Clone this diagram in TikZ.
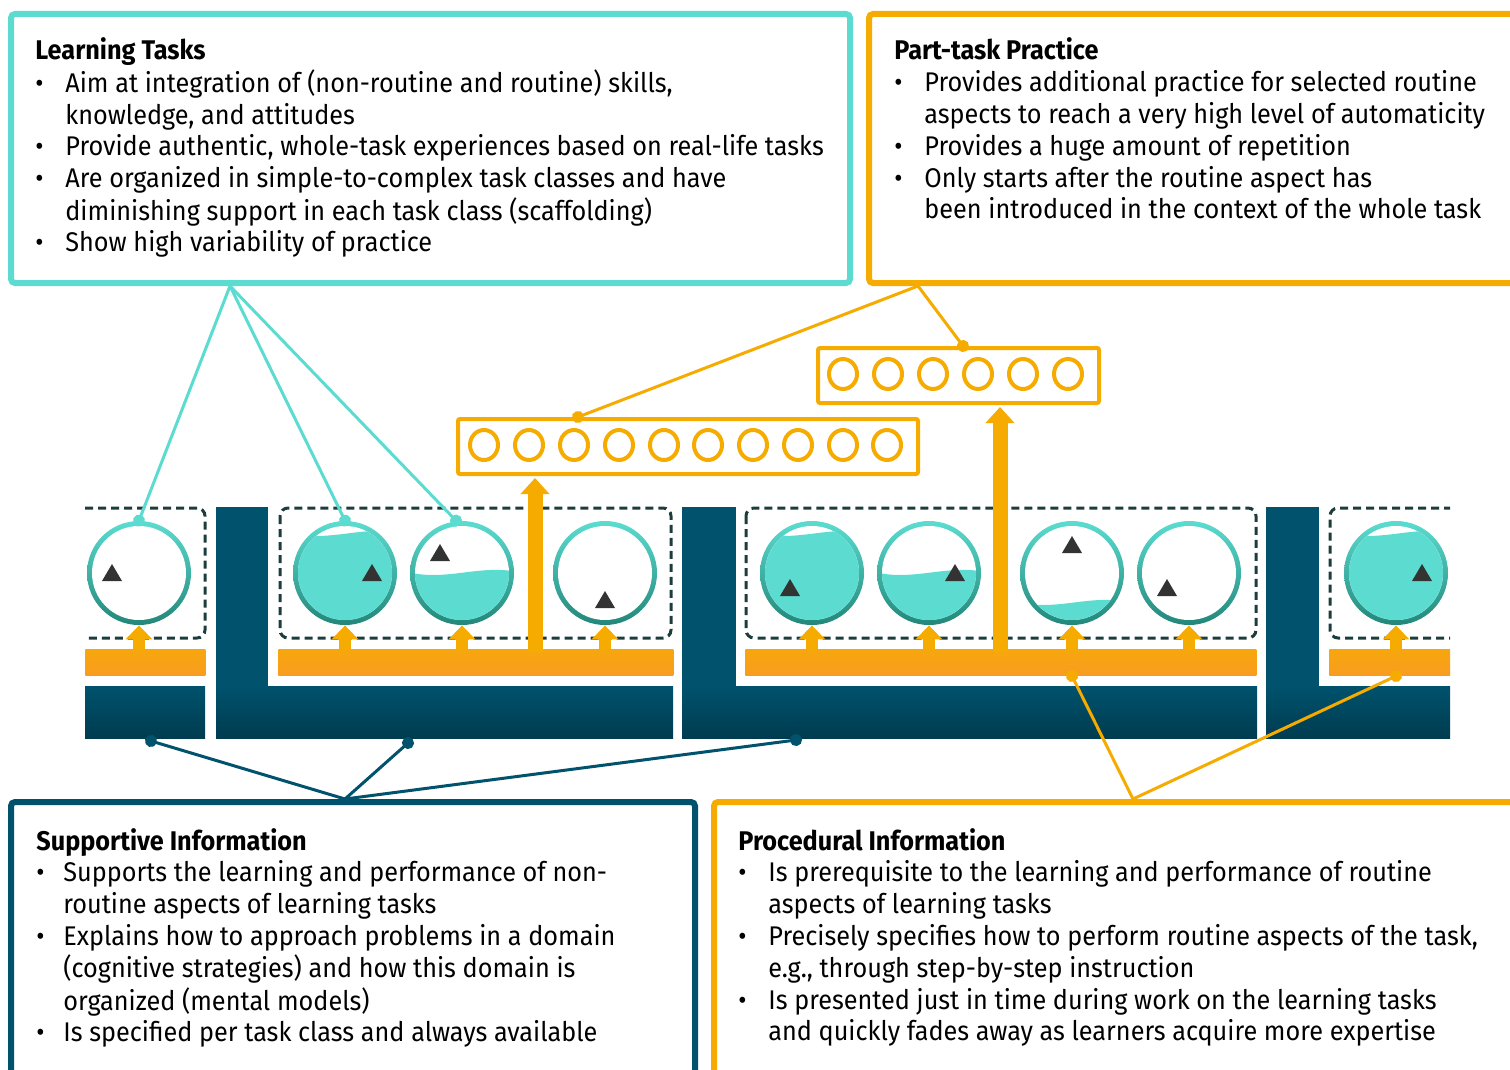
\documentclass[tikz,border=0pt]{standalone}
\usepackage{fontspec}
\setmainfont{Fira Sans}[FakeStretch=0.935]
\usetikzlibrary{arrows.meta}
\definecolor{tealLight}{HTML}{5CDCD0}
\definecolor{tealDark}{HTML}{22877A}
\definecolor{petrol}{HTML}{00526D}
\definecolor{petrolDark}{HTML}{003C50}
\definecolor{amber}{HTML}{F6AB00}
\definecolor{amberTop}{HTML}{F7A70C}
\definecolor{amberBottom}{HTML}{F99B22}
\definecolor{frame}{HTML}{1D3D3D}
\definecolor{marker}{HTML}{333333}
\begin{document}
\begin{tikzpicture}[x=0.5pt,y=-0.5pt]
  % Define styles for nodes
  \tikzstyle{infobox} = [anchor=north west, draw, rounded corners=2pt,
  line width=3pt, inner sep=0pt, minimum height=134.5pt]
  \tikzstyle{infotext} = [anchor=base west, inner sep=0pt,
  font=\fontsize{13.5}{15.9}\selectfont]
  \tikzstyle{tank} = [circle, minimum size=52pt, inner sep=0pt,
  top color=tealLight, bottom color=tealDark,
  path picture={\fill[white] (path picture bounding box.center) circle (23.5pt);}]
  \tikzstyle{water} = [fill=tealLight]
  \tikzstyle{obar} = [anchor=south west, inner sep=0pt, minimum height=13pt,
  top color=amberTop, bottom color=amberBottom]
  \tikzstyle{drillbox} = [anchor=north west, draw=amber, line width=2pt,
  rounded corners=1pt, inner sep=0pt, minimum height=27.5pt]
  \tikzstyle{drill} = [draw=amber, line width=2pt]
  \tikzstyle{taskclass} = [draw=frame, line width=1.5pt,
  dash pattern=on 4pt off 2.5pt, rounded corners=4pt]
  \tikzstyle{upsmall} = [draw=amber, line width=6pt, -{Triangle[width=13pt,length=7pt]}]
  \tikzstyle{upbig} = [draw=amber, line width=7.5pt, -{Triangle[width=14pt,length=8pt]}]
  \tikzstyle{link} = [line width=1.5pt, -{Circle[length=6pt]}, shorten >=-3pt]

  \useasboundingbox (0,0) rectangle (1510,1070);

  % Four text boxes
  \node[infobox, draw=tealLight, minimum width=419.5pt] (lt) at (8,11) {};
  \node[infobox, draw=amber, minimum width=340pt] (pt) at (866,11) {};
  \node[infobox, draw=petrol, minimum width=342pt, minimum height=150pt] (si) at (8,799) {};
  \node[infobox, draw=amber, minimum width=415pt, minimum height=150pt] (pi) at (711,799) {};

  \node[infotext] (lttext) at (35,60) {\begin{tabular}[t]{@{}p{15pt}@{}l@{}}
    \multicolumn{2}{@{}l@{}}{\bfseries Learning Tasks}\\
    • & Aim at integration of (non-routine and routine) skills,\\
      & knowledge, and attitudes\\
    • & Provide authentic, whole-task experiences based on real-life tasks\\
    • & Are organized in simple-to-complex task classes and have\\
      & diminishing support in each task class (scaffolding)\\
    • & Show high variability of practice
  \end{tabular}};
  \node[infotext] (pttext) at (894,60) {\begin{tabular}[t]{@{}p{15pt}@{}l@{}}
    \multicolumn{2}{@{}l@{}}{\bfseries Part-task Practice}\\
    • & Provides additional practice for selected routine\\
      & aspects to reach a very high level of automaticity\\
    • & Provides a huge amount of repetition\\
    • & Only starts after the routine aspect has\\
      & been introduced in the context of the whole task
  \end{tabular}};
  \node[infotext] (sitext) at (36,850) {\begin{tabular}[t]{@{}p{13.5pt}@{}l@{}}
    \multicolumn{2}{@{}l@{}}{\bfseries Supportive Information}\\
    • & Supports the learning and performance of non-\\
      & routine aspects of learning tasks\\
    • & Explains how to approach problems in a domain\\
      & (cognitive strategies) and how this domain is\\
      & organized (mental models)\\
    • & Is specified per task class and always available
  \end{tabular}};
  \node[infotext] (pitext) at (738,850) {\begin{tabular}[t]{@{}p{15pt}@{}l@{}}
    \multicolumn{2}{@{}l@{}}{\bfseries Procedural Information}\\
    • & Is prerequisite to the learning and performance of routine\\
      & aspects of learning tasks\\
    • & Precisely specifies how to perform routine aspects of the task,\\
      & e.g., through step-by-step instruction\\
    • & Is presented just in time during work on the learning tasks\\
      & and quickly fades away as learners acquire more expertise
  \end{tabular}};

  % Part-task practice boxes
  \node[drillbox, minimum width=230pt] (pa) at (456,417) {};
  \node[drillbox, minimum width=140.5pt] (pb) at (816,346) {};
  \draw[drill] (484,445) ellipse (14 and 15);
  \draw[drill] (529,445) ellipse (14 and 15);
  \draw[drill] (574,445) ellipse (14 and 15);
  \draw[drill] (619,445) ellipse (14 and 15);
  \draw[drill] (664,445) ellipse (14 and 15);
  \draw[drill] (708,445) ellipse (14 and 15);
  \draw[drill] (753,445) ellipse (14 and 15);
  \draw[drill] (798,445) ellipse (14 and 15);
  \draw[drill] (843,445) ellipse (14 and 15);
  \draw[drill] (887,445) ellipse (14 and 15);
  \draw[drill] (843,374) ellipse (14 and 15);
  \draw[drill] (888,374) ellipse (14 and 15);
  \draw[drill] (933,374) ellipse (14 and 15);
  \draw[drill] (978,374) ellipse (14 and 15);
  \draw[drill] (1023,374) ellipse (14 and 15);
  \draw[drill] (1068,374) ellipse (14 and 15);

  \begin{scope}
    \clip (80,300) rectangle (1450,760);

    % Supportive information spines
    \shade[top color=petrol, bottom color=petrolDark] (85,686) rectangle (205,738);
    \fill[petrol] (216,507) rectangle (268,686);
    \shade[top color=petrol, bottom color=petrolDark] (216,686) rectangle (673,738);
    \fill[petrol] (682,507) rectangle (736,686);
    \shade[top color=petrol, bottom color=petrolDark] (682,686) rectangle (1257,738);
    \fill[petrol] (1266,507) rectangle (1319,686);
    \shade[top color=petrol, bottom color=petrolDark] (1266,686) rectangle (1450,738);

    % Procedural information bars
    \node[obar, minimum width=60pt] (ob1) at (85,676) {};
    \node[obar, minimum width=197.5pt] (ob2) at (278,676) {};
    \node[obar, minimum width=255.5pt] (ob3) at (745,676) {};
    \node[obar, minimum width=60.5pt] (ob4) at (1329,676) {};

    % Task classes
    \draw[taskclass] (85,508) -- (205,508) -- (205,638) -- (85,638);
    \draw[taskclass] (280,508) rectangle (671,638);
    \draw[taskclass] (746,508) rectangle (1256,638);
    \draw[taskclass] (1452,508) -- (1330,508) -- (1330,638) -- (1452,638);

    % Learning tasks
    \node[tank] (t1) at (139,573) {};
    \node[tank] (t2) at (345,573) {};
    \node[tank] (t3) at (462,573) {};
    \node[tank] (t4) at (605,573) {};
    \node[tank] (t5) at (812,573) {};
    \node[tank] (t6) at (929,573) {};
    \node[tank] (t7) at (1072,573) {};
    \node[tank] (t8) at (1189,573) {};
    \node[tank] (t9) at (1396,573) {};

    % Support levels
    \begin{scope}
      \clip (t2.center) circle (23.5pt);
      \fill[water] (295,534) .. controls (330,541) and (360,527) .. (395,532) -- (395,630) -- (295,630) -- cycle;
    \end{scope}
    \begin{scope}
      \clip (t3.center) circle (23.5pt);
      \fill[water] (412,573) .. controls (447,580) and (477,566) .. (512,571) -- (512,630) -- (412,630) -- cycle;
    \end{scope}
    \begin{scope}
      \clip (t5.center) circle (23.5pt);
      \fill[water] (762,534) .. controls (797,541) and (827,527) .. (862,532) -- (862,630) -- (762,630) -- cycle;
    \end{scope}
    \begin{scope}
      \clip (t6.center) circle (23.5pt);
      \fill[water] (879,573) .. controls (914,580) and (944,566) .. (979,571) -- (979,630) -- (879,630) -- cycle;
    \end{scope}
    \begin{scope}
      \clip (t7.center) circle (23.5pt);
      \fill[water] (1022,603) .. controls (1057,610) and (1087,596) .. (1122,601) -- (1122,630) -- (1022,630) -- cycle;
    \end{scope}
    \begin{scope}
      \clip (t9.center) circle (23.5pt);
      \fill[water] (1346,534) .. controls (1381,541) and (1411,527) .. (1446,532) -- (1446,630) -- (1346,630) -- cycle;
    \end{scope}

    % Triangles
    \fill[marker] (112,573) ++(-10,8) -- ++(20,0) -- ++(-10,-17) -- cycle;
    \fill[marker] (372,573) ++(-10,8) -- ++(20,0) -- ++(-10,-17) -- cycle;
    \fill[marker] (440,553) ++(-10,8) -- ++(20,0) -- ++(-10,-17) -- cycle;
    \fill[marker] (605,600) ++(-10,8) -- ++(20,0) -- ++(-10,-17) -- cycle;
    \fill[marker] (790,588) ++(-10,8) -- ++(20,0) -- ++(-10,-17) -- cycle;
    \fill[marker] (955,573) ++(-10,8) -- ++(20,0) -- ++(-10,-17) -- cycle;
    \fill[marker] (1072,545) ++(-10,8) -- ++(20,0) -- ++(-10,-17) -- cycle;
    \fill[marker] (1167,588) ++(-10,8) -- ++(20,0) -- ++(-10,-17) -- cycle;
    \fill[marker] (1422,573) ++(-10,8) -- ++(20,0) -- ++(-10,-17) -- cycle;

    % Small arrows from bars to tasks
    \draw[upsmall] (ob1.north -| t1.south) -- (t1.south);
    \draw[upsmall] (ob2.north -| t2.south) -- (t2.south);
    \draw[upsmall] (ob2.north -| t3.south) -- (t3.south);
    \draw[upsmall] (ob2.north -| t4.south) -- (t4.south);
    \draw[upsmall] (ob3.north -| t5.south) -- (t5.south);
    \draw[upsmall] (ob3.north -| t6.south) -- (t6.south);
    \draw[upsmall] (ob3.north -| t7.south) -- (t7.south);
    \draw[upsmall] (ob3.north -| t8.south) -- (t8.south);
    \draw[upsmall] (ob4.north -| t9.south) -- (t9.south);
  \end{scope}

  % Big arrows up to part-task practice
  \coordinate (upA) at (535,652);
  \coordinate (upB) at (1000,652);
  \draw[upbig, shorten >=1pt] (upA) -- (upA |- pa.south);
  \draw[upbig, shorten >=1pt] (upB) -- (upB |- pb.south);

  % Connections
  \coordinate (ltfoot) at ([xshift=111pt]lt.south west);
  \draw[link, tealLight] (ltfoot) -- (t1.north);
  \draw[link, tealLight] (ltfoot) -- (t2.north);
  \draw[link, tealLight] (ltfoot) -- ([xshift=-3pt]t3.north);

  \coordinate (ptfoot) at ([xshift=26pt]pt.south west);
  \draw[link, amber] (ptfoot) -- ([xshift=61pt]pa.north west);
  \draw[link, amber] (ptfoot) -- ([xshift=73.5pt]pb.north west);

  \coordinate (sihead) at ([xshift=168.5pt]si.north west);
  \coordinate (sp1) at (151,741);
  \coordinate (sp2) at (408,743);
  \coordinate (sp3) at (796,740);
  \draw[link, petrol] (sihead) -- (sp1);
  \draw[link, petrol] (sihead) -- (sp2);
  \draw[link, petrol] (sihead) -- (sp3);

  \coordinate (pihead) at ([xshift=211pt]pi.north west);
  \draw[link, amber] (pihead) -- (ob3.south -| t7.center);
  \draw[link, amber] (pihead) -- (ob4.south -| t9.center);
\end{tikzpicture}
\end{document}
